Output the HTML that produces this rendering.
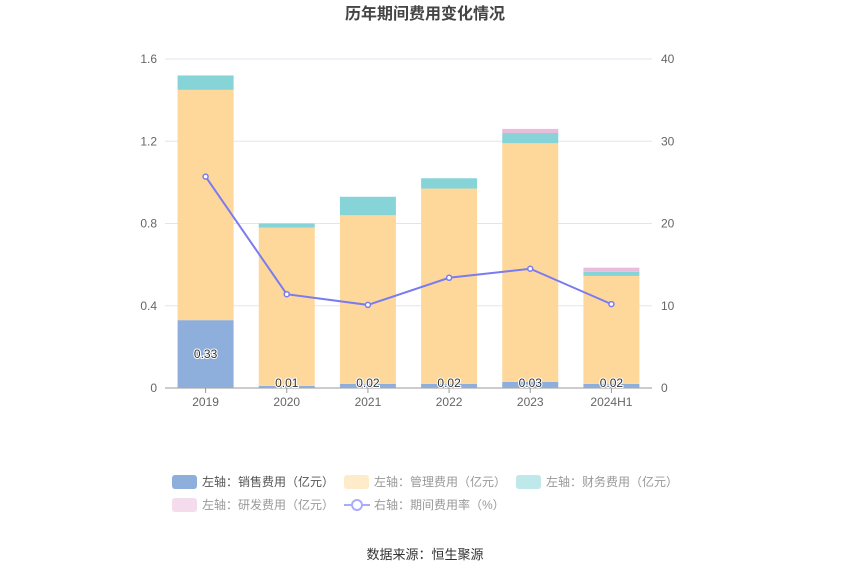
<!DOCTYPE html>
<html><head><meta charset="utf-8"><style>
body{margin:0;background:#fff;font-family:"Liberation Sans","Noto Sans CJK SC",sans-serif}
svg text{font-family:"Liberation Sans","Noto Sans CJK SC",sans-serif}
</style></head><body>
<svg id="c" width="850" height="575" xmlns="http://www.w3.org/2000/svg">
<text x="425" y="19" text-anchor="middle" font-size="16" font-weight="bold" fill="#444">历年期间费用变化情况</text>
<g id="grid"></g><g id="bars"></g><g id="line"></g><g id="axes"></g>
<g font-size="12">
<g><rect x="172" y="475" width="25" height="14" rx="3" fill="#8eaedc"/><text x="202" y="486" fill="#555">左轴：销售费用（亿元）</text></g>
<g><rect x="344" y="475" width="25" height="14" rx="3" fill="#feebc9"/><text x="374" y="486" fill="#999">左轴：管理费用（亿元）</text></g>
<g><rect x="516" y="475" width="25" height="14" rx="3" fill="#bfe8ea"/><text x="546" y="486" fill="#999">左轴：财务费用（亿元）</text></g>
<g><rect x="172" y="498" width="25" height="14" rx="3" fill="#f4dcec"/><text x="202" y="509" fill="#999">左轴：研发费用（亿元）</text></g>
<g><line x1="344" y1="505" x2="370" y2="505" stroke="#aaaaff" stroke-width="2"/><circle cx="357" cy="505" r="5" fill="#fff" stroke="#aaaaff" stroke-width="2"/><text x="374" y="509" fill="#999">右轴：期间费用率（%）</text></g>
</g>
<text x="425" y="559" text-anchor="middle" font-size="13" fill="#333">数据来源：恒生聚源</text>
</svg>
<script>
const categories=["2019","2020","2021","2022","2023","2024H1"];
const sales=[0.33,0.01,0.02,0.02,0.03,0.02];
const management=[1.12,0.77,0.82,0.95,1.16,0.525];
const finance=[0.07,0.02,0.09,0.05,0.05,0.02];
const rd=[0,0,0,0,0.02,0.02];
const rate=[25.7,11.4,10.1,13.4,14.5,10.2];
const leftTicks=[0,0.4,0.8,1.2,1.6];
const rightTicks=[0,10,20,30,40];
const NS="http://www.w3.org/2000/svg";
const X0=165,X1=652,Y0=388,Y1=59;
const yL=v=>Y0-(v/1.6)*(Y0-Y1);
const yR=v=>Y0-(v/40)*(Y0-Y1);
const bw=(X1-X0)/categories.length;
const xC=i=>X0+bw*(i+0.5);
function mk(t,a,p){const e=document.createElementNS(NS,t);for(const k in a)e.setAttribute(k,a[k]);document.getElementById(p).appendChild(e);return e;}
leftTicks.forEach((t,i)=>{
 const l=mk('line',{x1:X0,x2:X1,y1:yL(t),y2:yL(t),stroke:i==0?'#999':'#e0e6f1'},'grid');
 
 
 const tx=mk('text',{x:157,y:yL(t)+4,'text-anchor':'end','font-size':12,fill:'#666'},'axes');tx.textContent=t==0?'0':t.toFixed(1);
 
 
});
rightTicks.forEach(t=>{
 const tx=mk('text',{x:661,y:yR(t)+4,'font-size':12,fill:'#666'},'axes');tx.textContent=t;
 
 
});
const series=[[sales,'#8eaedc'],[management,'#fed89b'],[finance,'#86d4d8'],[rd,'#ebbbdc']];
categories.forEach((c,i)=>{
 let acc=0;
 series.forEach(([arr,col],s)=>{
  const v=arr[i];if(v<=0)return;
  const r=mk('rect',{x:xC(i)-28,width:56,y:yL(acc+v),height:yL(acc)-yL(acc+v),fill:col},'bars');
  
  
  acc+=v;
 });
 const lb=mk('text',{x:xC(i),y:i==0?yL(sales[i]/2)+4:yL(0)-1,'text-anchor':'middle','font-size':12,fill:'#333',stroke:'#fff','stroke-width':2,'paint-order':'stroke'},'bars');
 lb.textContent=sales[i].toFixed(2);
 
 
 const tk=mk('text',{x:xC(i),y:406,'text-anchor':'middle','font-size':12,fill:'#666'},'axes');tk.textContent=c;
 
 
 const tm=mk('line',{x1:xC(i),x2:xC(i),y1:Y0,y2:Y0+5,stroke:'#999'},'axes');
 
 
});
const pl=mk('polyline',{points:rate.map((v,i)=>xC(i)+','+yR(v)).join(' '),fill:'none',stroke:'#7b7bf0','stroke-width':2},'line');


rate.forEach((v,i)=>{
 const p=mk('circle',{cx:xC(i),cy:yR(v),r:2.5,fill:'#fff',stroke:'#7b7bf0','stroke-width':1.5},'line');
 
 
});
</script>
</body></html>
